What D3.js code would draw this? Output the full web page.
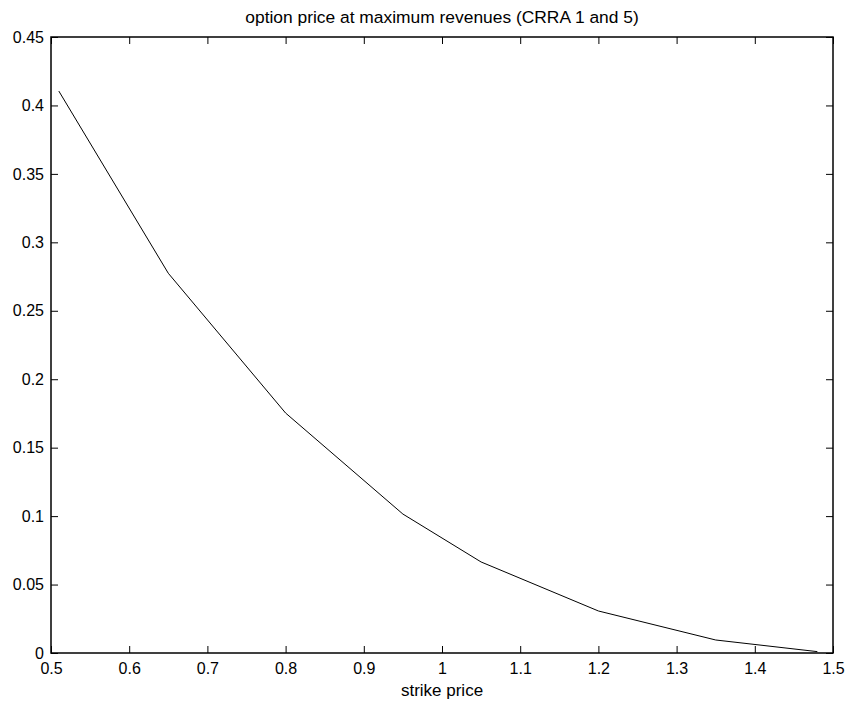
<!DOCTYPE html>
<html>
<head>
<meta charset="utf-8">
<script src="https://d3js.org/d3.v7.min.js"></script>
<style>
  body { margin: 0; background: #fff; }
  svg { display: block; font-family: "Liberation Sans", Arial, sans-serif; }
</style>
</head>
<body>
<div id="chart"></div>
<script>
// values
const strike = [0.51, 0.65, 0.80, 0.95, 1.05, 1.20, 1.35, 1.48];
const price = [0.4105, 0.2774, 0.1753, 0.1015, 0.0665, 0.0307, 0.0095, 0.001];
const xTicks = [0.5, 0.6, 0.7, 0.8, 0.9, 1, 1.1, 1.2, 1.3, 1.4, 1.5];
const yTicks = [0, 0.05, 0.1, 0.15, 0.2, 0.25, 0.3, 0.35, 0.4, 0.45];

const width = 850, height = 707;
const margin = { top: 37, right: 17, bottom: 54, left: 51 };
const tickLen = 7;
const font = "Liberation Sans, Arial, sans-serif";

const svg = d3.select("#chart").append("svg")
    .attr("width", width)
    .attr("height", height);

const x = d3.scaleLinear().domain([0.5, 1.5]).range([margin.left, width - margin.right]);
const y = d3.scaleLinear().domain([0, 0.45]).range([height - margin.bottom, margin.top]);

const fmt = d => String(+d.toFixed(2));

// bottom axis, ticks pointing inward
svg.append("g")
    .attr("transform", `translate(0,${y(0)})`)
    .call(d3.axisBottom(x).tickValues(xTicks).tickFormat(fmt).tickSizeInner(-tickLen).tickSizeOuter(0).tickPadding(10))
    .call(g => g.select(".domain").remove())
    .call(g => g.selectAll("text").attr("font-size", 16).attr("font-family", font));

// top ticks
svg.append("g")
    .attr("transform", `translate(0,${y(0.45)})`)
    .call(d3.axisTop(x).tickValues(xTicks).tickFormat("").tickSizeInner(-tickLen).tickSizeOuter(0))
    .call(g => g.select(".domain").remove());

// left axis
svg.append("g")
    .attr("transform", `translate(${x(0.5)},0)`)
    .call(d3.axisLeft(y).tickValues(yTicks).tickFormat(fmt).tickSizeInner(-tickLen).tickSizeOuter(0).tickPadding(7))
    .call(g => g.select(".domain").remove())
    .call(g => g.selectAll("text").attr("font-size", 16).attr("font-family", font));

// right ticks
svg.append("g")
    .attr("transform", `translate(${x(1.5)},0)`)
    .call(d3.axisRight(y).tickValues(yTicks).tickFormat("").tickSizeInner(-tickLen).tickSizeOuter(0))
    .call(g => g.select(".domain").remove());

// frame
svg.append("rect")
    .attr("x", x(0.5))
    .attr("y", y(0.45))
    .attr("width", x(1.5) - x(0.5))
    .attr("height", y(0) - y(0.45))
    .attr("fill", "none")
    .attr("stroke", "#000")
    .attr("stroke-width", 1.5);

// the curve
const line = d3.line().x((d, i) => x(strike[i])).y(d => y(d));
svg.append("path")
    .datum(price)
    .attr("d", line)
    .attr("fill", "none")
    .attr("stroke", "#000")
    .attr("stroke-width", 1);

svg.append("text")
    .attr("x", (x(0.5) + x(1.5)) / 2)
    .attr("y", 23)
    .attr("text-anchor", "middle")
    .attr("font-size", 17.4)
    .text("option price at maximum revenues (CRRA 1 and 5)");

svg.append("text")
    .attr("x", (x(0.5) + x(1.5)) / 2)
    .attr("y", 696)
    .attr("text-anchor", "middle")
    .attr("font-size", 17)
    .text("strike price");
</script>
</body>
</html>
